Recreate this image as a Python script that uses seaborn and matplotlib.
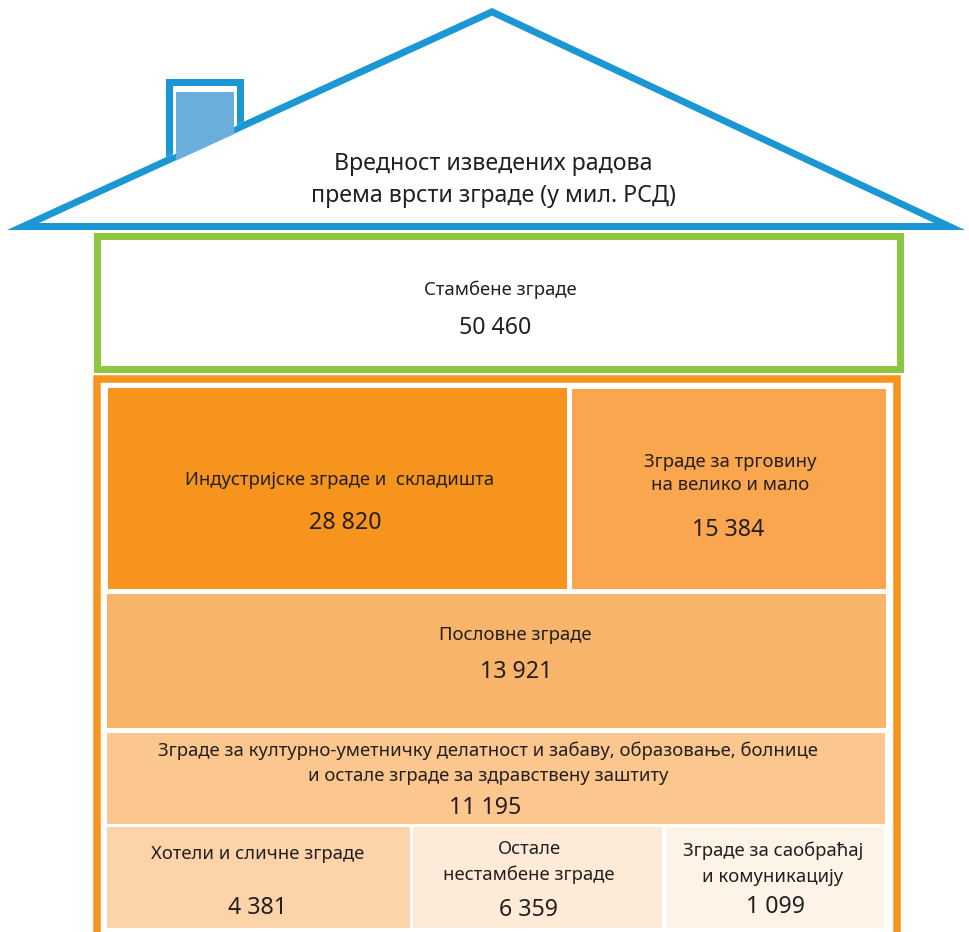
import matplotlib
matplotlib.use("Agg")
import matplotlib.pyplot as plt
from matplotlib.patches import Rectangle, Polygon
import seaborn as sns

# ---------------- data ----------------
title_lines = ["Вредност изведених радова", "према врсти зграде (у мил. РСД)"]
categories = [
    "Стамбене зграде",
    "Индустријске зграде и  складишта",
    "Зграде за трговину\nна велико и мало",
    "Пословне зграде",
    "Зграде за културно-уметничку делатност и забаву, образовање, болнице\nи остале зграде за здравствену заштиту",
    "Хотели и сличне зграде",
    "Остале\nнестамбене зграде",
    "Зграде за саобраћај\nи комуникацију",
]
values = [50460, 28820, 15384, 13921, 11195, 4381, 6359, 1099]

# ---------------- layout / style ----------------
# cell boxes (x0, y0, x1, y1) in pixel space of the figure
boxes = [
    None,                       # residential drawn as green frame
    (108, 388, 567, 589),
    (572, 389, 886, 589),
    (107, 594, 886, 728),
    (107, 733, 885, 824),
    (107, 827, 410, 928),
    (413, 827, 662, 928),
    (666, 827, 884, 928),
]
colors = [None, "#f7941d", "#f9a64f", "#f9b46b", "#fcc78f", "#fdd4a9", "#feebd7", "#fdf4e7"]
label_x = [500, 340, 730, 515, 488, 258, 529, 773]
value_x = [495, 345, 728, 516, 485, 258, 529, 776]
label_ys = [[290], [480], [462, 485], [635], [751, 776], [854], [849, 875], [851, 877]]
value_y = [328, 523, 530, 672, 808, 908, 910, 907]

BLUE = "#1b98d4"
LIGHTBLUE = "#6aafdc"
GREEN = "#8dc641"
ORANGE = "#f7941d"
TXT = "#231f20"

sns.set_theme(style="white")
plt.rcParams["font.family"] = ["Noto Sans", "DejaVu Sans"]

fig = plt.figure(figsize=(9.70, 9.32), dpi=100)
ax = fig.add_axes([0, 0, 1, 1])
ax.set_xlim(0, 970)
ax.set_ylim(932, 0)
ax.axis("off")

def px(p):
    return p * 72 / 100.0

# roof: outer blue triangle then inner white triangle
outer = [(7, 230), (492, 8), (965, 230)]
ax.add_patch(Polygon(outer, closed=True, facecolor=BLUE, edgecolor="none", zorder=2))
inner = [(39, 223), (492, 15.7), (934, 223)]
ax.add_patch(Polygon(inner, closed=True, facecolor="white", edgecolor="none", zorder=2.1))

def roof_y(x):
    # outer left edge line of the roof
    return 230 - (x - 7) * 222.0 / 485.0

# chimney (above the roof's outer edge)
ax.add_patch(Polygon([(166, 79), (244, 79), (244, roof_y(244)), (166, roof_y(166))],
                     closed=True, facecolor=BLUE, edgecolor="none", zorder=3))
ax.add_patch(Polygon([(173, 86), (237, 86), (237, roof_y(237) + 1), (173, roof_y(173) + 1)],
                     closed=True, facecolor="white", edgecolor="none", zorder=3.1))
ax.add_patch(Polygon([(176, 92), (234, 92), (234, roof_y(234) + 8), (176, roof_y(176) + 8)],
                     closed=True, facecolor=LIGHTBLUE, edgecolor="none", zorder=3.2))

# title
ax.text(493, 164, title_lines[0], ha="center", va="center", fontsize=16.7, color=TXT, zorder=5)
ax.text(493, 196, title_lines[1], ha="center", va="center", fontsize=16.7, color=TXT, zorder=5)

# residential green frame
ax.add_patch(Rectangle((97.5, 235.5), 803, 133, facecolor="white", edgecolor=GREEN,
                       linewidth=px(7), joinstyle="miter", zorder=4))

# orange frame
ax.add_patch(Rectangle((97, 378.5), 800.5, 600, facecolor="white", edgecolor=ORANGE,
                       linewidth=px(7.5), joinstyle="miter", zorder=4))

def fmt(v):
    return f"{v:,}".replace(",", " ")

for i, (cat, val) in enumerate(zip(categories, values)):
    b = boxes[i]
    if b is not None:
        x0, y0, x1, y1 = b
        ax.add_patch(Rectangle((x0, y0), x1 - x0, y1 - y0, facecolor=colors[i],
                               edgecolor="none", zorder=5))
    for line, ly in zip(cat.split("\n"), label_ys[i]):
        ax.text(label_x[i], ly, line, ha="center", va="center", fontsize=13.3,
                color=TXT, zorder=6)
    ax.text(value_x[i], value_y[i], fmt(val), ha="center", va="center",
            fontsize=16.7, color=TXT, zorder=6)

fig.savefig("out.png", dpi=100, facecolor="white")
